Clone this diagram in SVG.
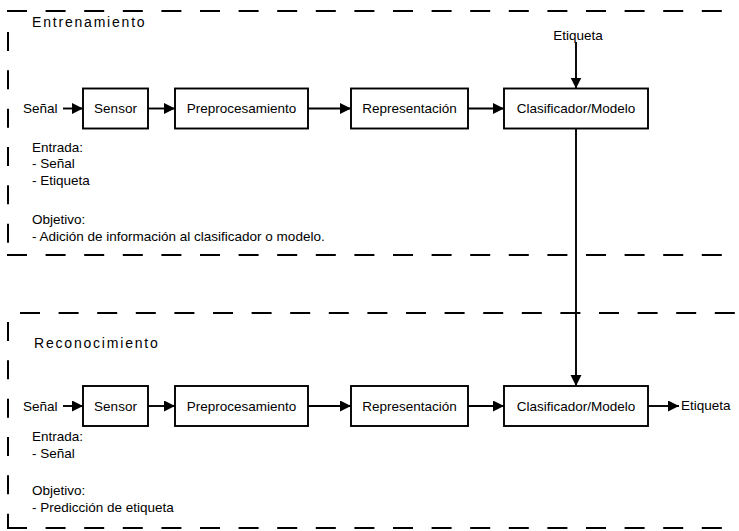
<svg xmlns="http://www.w3.org/2000/svg" width="739" height="531" viewBox="0 0 739 531">
<style>
.frame{stroke:#000;stroke-width:2;fill:none}
.h{stroke-dasharray:20 18.6}
.v{stroke-dasharray:19 19.33}
.box{fill:#fff;stroke:#000;stroke-width:1.9}
.t{font-family:"Liberation Sans",Arial,sans-serif;font-size:13.5px;fill:#000}
.c{text-anchor:middle}
.title{font-family:"Liberation Sans",Arial,sans-serif;font-size:14px;letter-spacing:1.8px;fill:#000}
.edge{stroke:#000;stroke-width:1.9;fill:none;marker-end:url(#ah)}
</style>
<defs>
<marker id="ah" markerUnits="userSpaceOnUse" markerWidth="12" markerHeight="12" refX="11" refY="5.5" orient="auto">
<path d="M0,0 L11,5.5 L0,11 z" fill="#000"/>
</marker>
</defs>
<rect width="739" height="531" fill="#fff"/>
<g id="frames">
<line class="frame h" x1="7" y1="11" x2="739" y2="11"/>
<line class="frame v" x1="8" y1="32" x2="8" y2="255"/>
<line class="frame h" x1="7" y1="255" x2="739" y2="255"/>
<line class="frame h" x1="20" y1="313" x2="739" y2="313"/>
<line class="frame v" x1="8" y1="322" x2="8" y2="528"/>
<line class="frame h" x1="7" y1="528" x2="739" y2="528"/>
</g>
<g id="titles">
<text class="title" x="32" y="27">Entrenamiento</text>
<text class="title" x="34" y="348">Reconocimiento</text>
</g>
<g id="connectors">
<line class="edge" x1="63" y1="108.5" x2="83" y2="108.5"/>
<line class="edge" x1="148" y1="108.5" x2="175" y2="108.5"/>
<line class="edge" x1="308" y1="108.5" x2="351" y2="108.5"/>
<line class="edge" x1="468" y1="108.5" x2="504" y2="108.5"/>
<line class="edge" x1="576" y1="42" x2="576" y2="88.5"/>
<line class="edge" x1="576" y1="128.5" x2="576" y2="386"/>
<line class="edge" x1="63" y1="406" x2="83" y2="406"/>
<line class="edge" x1="148" y1="406" x2="175" y2="406"/>
<line class="edge" x1="308" y1="406" x2="351" y2="406"/>
<line class="edge" x1="468" y1="406" x2="504" y2="406"/>
<line class="edge" x1="648" y1="406" x2="679" y2="406"/>
</g>
<g id="senal1"><text class="t" x="23" y="113">Señal</text></g>
<g id="sensor1"><rect class="box" x="83" y="88.5" width="65" height="40"/><text class="t c" x="115.5" y="113">Sensor</text></g>
<g id="preproc1"><rect class="box" x="175" y="88.5" width="133" height="40"/><text class="t c" x="241.5" y="113">Preprocesamiento</text></g>
<g id="repr1"><rect class="box" x="351" y="88.5" width="117" height="40"/><text class="t c" x="409.5" y="113">Representación</text></g>
<g id="clasif1"><rect class="box" x="504" y="88.5" width="144" height="40"/><text class="t c" x="576" y="113">Clasificador/Modelo</text></g>
<g id="etiqueta1"><text class="t c" x="578" y="40">Etiqueta</text></g>
<g id="info1">
<text class="t" x="32" y="152">Entrada:</text>
<text class="t" x="32" y="168">- Señal</text>
<text class="t" x="32" y="185">- Etiqueta</text>
<text class="t" x="32" y="224">Objetivo:</text>
<text class="t" x="32" y="241">- Adición de información al clasificador o modelo.</text>
</g>
<g id="senal2"><text class="t" x="23" y="411">Señal</text></g>
<g id="sensor2"><rect class="box" x="83" y="386" width="65" height="40"/><text class="t c" x="115.5" y="411">Sensor</text></g>
<g id="preproc2"><rect class="box" x="175" y="386" width="133" height="40"/><text class="t c" x="241.5" y="411">Preprocesamiento</text></g>
<g id="repr2"><rect class="box" x="351" y="386" width="117" height="40"/><text class="t c" x="409.5" y="411">Representación</text></g>
<g id="clasif2"><rect class="box" x="504" y="386" width="144" height="40"/><text class="t c" x="576" y="411">Clasificador/Modelo</text></g>
<g id="etiqueta2"><text class="t" x="681" y="410">Etiqueta</text></g>
<g id="info2">
<text class="t" x="32" y="441">Entrada:</text>
<text class="t" x="32" y="458">- Señal</text>
<text class="t" x="32" y="495">Objetivo:</text>
<text class="t" x="32" y="512">- Predicción de etiqueta</text>
</g>
</svg>
